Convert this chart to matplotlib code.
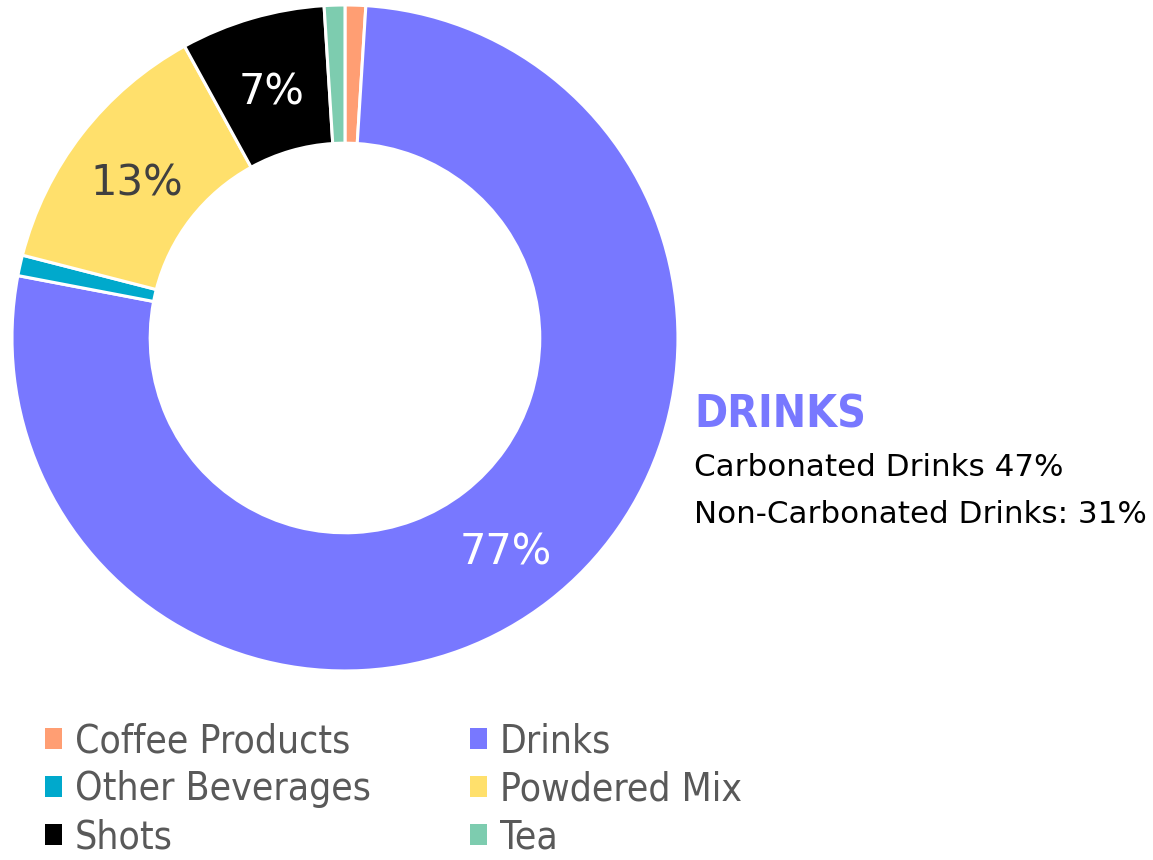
import matplotlib.pyplot as plt

categories = ["Coffee Products", "Drinks", "Other Beverages", "Powdered Mix", "Shots", "Tea"]
shares = [1, 77, 1, 13, 7, 1]
colors = ["#FF9E73", "#7878FF", "#00A9CC", "#FFE06C", "#000000", "#7DCCAF"]
label_colors = ["white", "white", "white", "#404040", "white", "white"]
drinks_breakdown = ["Carbonated Drinks 47%", "Non-Carbonated Drinks: 31%"]

fig = plt.figure(figsize=(11.53, 8.6), dpi=100)
ax = fig.add_axes([0.0104, 0.2198, 0.5776, 0.7744])

wedges, texts, autotexts = ax.pie(
    shares,
    colors=colors,
    startangle=90,
    counterclock=False,
    radius=1.0,
    autopct=lambda p: f"{p:.0f}%" if p >= 5 else "",
    pctdistance=0.79,
    wedgeprops=dict(width=0.415, edgecolor="white", linewidth=2.2),
    textprops=dict(fontsize=30, family="DejaVu Sans"),
)
for t, c in zip(autotexts, label_colors):
    t.set_color(c)
    x, y = t.get_position()
    t.set_position((x, y - 0.02))
ax.set_xlim(-1, 1)
ax.set_ylim(-1, 1)
ax.set_aspect("equal")
ax.axis("off")

# callout describing the drinks slice
fig.text(0.602, 0.517, "DRINKS", color="#7878FF", fontsize=32, fontweight="bold",
         family="DejaVu Sans", fontstretch="condensed", va="center", ha="left")
fig.text(0.602, 0.456, drinks_breakdown[0], color="black", fontsize=22.3,
         family="DejaVu Sans", va="center", ha="left")
fig.text(0.602, 0.402, drinks_breakdown[1], color="black", fontsize=22.3,
         family="DejaVu Sans", va="center", ha="left")

# legend laid out row-wise: matplotlib fills columns first
order = [0, 2, 4, 1, 3, 5]
leg = fig.legend(
    [wedges[i] for i in order],
    [categories[i] for i in order],
    ncol=2,
    loc="lower left",
    bbox_to_anchor=(0.039, 0.004),
    frameon=False,
    borderpad=0,
    borderaxespad=0,
    handlelength=0.44,
    handleheight=0.44,
    handletextpad=0.33,
    columnspacing=2.55,
    labelspacing=0.26,
    prop=dict(family="DejaVu Sans", stretch="condensed", size=28),
)
for t in leg.get_texts():
    t.set_color("#595959")
for h in leg.legend_handles:
    h.set_edgecolor("none")

fig.savefig("out.png", dpi=100)
